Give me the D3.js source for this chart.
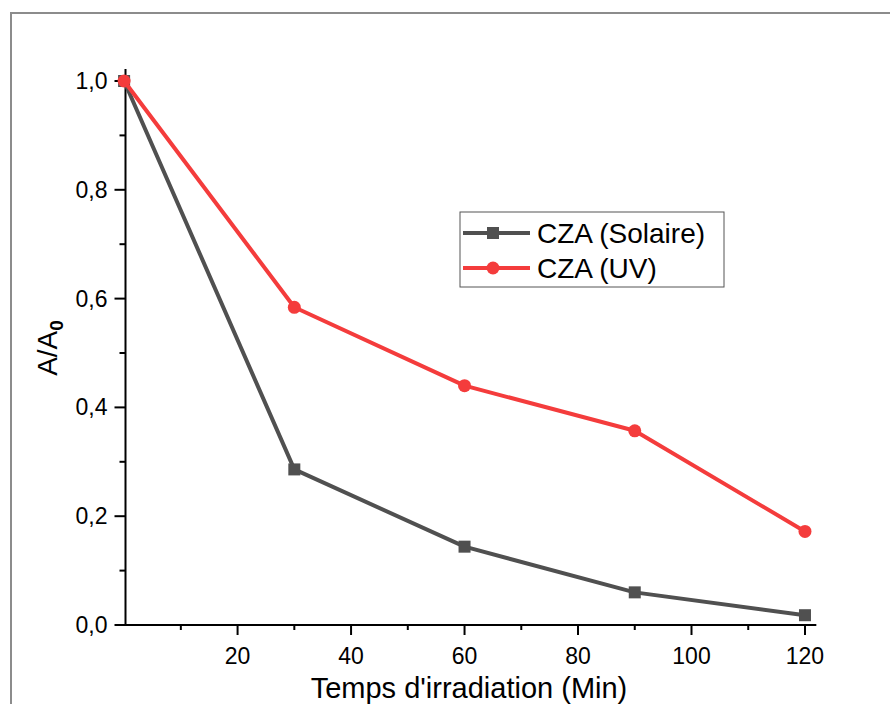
<!DOCTYPE html>
<html>
<head>
<meta charset="utf-8">
<script src="https://cdn.jsdelivr.net/npm/d3@7"></script>
<style>
  body { margin: 0; background: #fff; }
  svg { display: block; font-family: Arial, "Liberation Sans", sans-serif; }
</style>
</head>
<body>
<svg id="chart" width="890" height="704"></svg>
<script>
// data
var times = [0, 30, 60, 90, 120]
var solaire = [1.0, 0.286, 0.144, 0.060, 0.018]
var uv = [1.0, 0.584, 0.440, 0.357, 0.172]
var seriesNames = ['CZA (Solaire)', 'CZA (UV)']
var xTicks = [20, 40, 60, 80, 100, 120]
var yTicks = [0, 0.2, 0.4, 0.6, 0.8, 1.0]

var svg = d3.select('#chart')

// outer frame
svg.append('rect')
  .attr('x', 11).attr('y', 13)
  .attr('width', 900).attr('height', 720)
  .attr('fill', 'none')
  .attr('stroke', '#8c8c8c')
  .attr('stroke-width', 2)

var x = d3.scaleLinear().domain([0, 122]).range([124.1, 124.1 + 122 * 5.674])
var y = d3.scaleLinear().domain([0, 1.022]).range([625, 625 - 1.022 * 544])

var fmt = d => d3.format('.1f')(d).replace('.', ',')

// x axis
var gx = svg.append('g').attr('transform', 'translate(0,625)')
gx.append('line')
  .attr('x1', x.range()[0] + 1).attr('x2', x.range()[1])
  .attr('stroke', '#000').attr('stroke-width', 2)
var xMinor = d3.range(10, 121, 10).filter(v => xTicks.indexOf(v) < 0)
gx.selectAll('.minor').data(xMinor).enter().append('line')
  .attr('x1', d => x(d)).attr('x2', d => x(d))
  .attr('y1', 0).attr('y2', 5)
  .attr('stroke', '#000').attr('stroke-width', 2)
gx.selectAll('.major').data(xTicks).enter().append('line')
  .attr('x1', d => x(d)).attr('x2', d => x(d))
  .attr('y1', 0).attr('y2', 10)
  .attr('stroke', '#000').attr('stroke-width', 2)
gx.selectAll('text').data(xTicks).enter().append('text')
  .attr('x', d => x(d)).attr('y', 39)
  .attr('text-anchor', 'middle')
  .attr('font-size', 23)
  .text(d => d)
svg.append('text')
  .attr('x', 469).attr('y', 698)
  .attr('text-anchor', 'middle')
  .attr('font-size', 29)
  .text("Temps d'irradiation (Min)")

// y axis
var gy = svg.append('g').attr('transform', 'translate(125.5,0)')
gy.append('line')
  .attr('y1', y.range()[0] + 1).attr('y2', y.range()[1])
  .attr('stroke', '#000').attr('stroke-width', 2)
var yMinor = d3.range(0.1, 1.0, 0.2)
gy.selectAll('.minor').data(yMinor).enter().append('line')
  .attr('y1', d => y(d)).attr('y2', d => y(d))
  .attr('x1', 0).attr('x2', -6)
  .attr('stroke', '#000').attr('stroke-width', 2)
gy.selectAll('.major').data(yTicks).enter().append('line')
  .attr('y1', d => y(d)).attr('y2', d => y(d))
  .attr('x1', 0).attr('x2', -11)
  .attr('stroke', '#000').attr('stroke-width', 2)
gy.selectAll('text').data(yTicks).enter().append('text')
  .attr('x', -18).attr('y', d => y(d) + 8)
  .attr('text-anchor', 'end')
  .attr('font-size', 23)
  .text(fmt)

var yt = svg.append('text')
  .attr('transform', 'translate(57,348) rotate(-90)')
  .attr('text-anchor', 'middle')
  .attr('font-size', 28)
yt.append('tspan').text('A/A')
yt.append('tspan').attr('dy', 6).attr('font-size', 19).attr('font-weight', 'bold').text('0')

// series
var line = d3.line().x(d => x(d[0])).y(d => y(d[1]))
var grey = '#505050'
var red = '#f43c3c'

var sData = times.map((t, i) => [t, solaire[i]])
var uData = times.map((t, i) => [t, uv[i]])

svg.append('path').datum(sData)
  .attr('d', line).attr('fill', 'none')
  .attr('stroke', grey).attr('stroke-width', 4).attr('stroke-linejoin', 'round')
svg.selectAll('.sq').data(sData).enter().append('rect')
  .attr('x', d => x(d[0]) - 6).attr('y', d => y(d[1]) - 6)
  .attr('width', 12).attr('height', 12)
  .attr('fill', grey)

svg.append('path').datum(uData)
  .attr('d', line).attr('fill', 'none')
  .attr('stroke', red).attr('stroke-width', 4).attr('stroke-linejoin', 'round')
svg.selectAll('.dot').data(uData).enter().append('circle')
  .attr('cx', d => x(d[0])).attr('cy', d => y(d[1]))
  .attr('r', 6.5)
  .attr('fill', red)

// legend
var lg = svg.append('g')
lg.append('rect')
  .attr('x', 460).attr('y', 212)
  .attr('width', 264).attr('height', 75)
  .attr('fill', '#fff').attr('stroke', '#555').attr('stroke-width', 1)
var rows = [{ c: grey, m: 'sq' }, { c: red, m: 'dot' }]
rows.forEach(function (r, i) {
  var cy = 233 + i * 35
  lg.append('line')
    .attr('x1', 463).attr('x2', 530).attr('y1', cy).attr('y2', cy)
    .attr('stroke', r.c).attr('stroke-width', 4)
  if (r.m === 'sq') {
    lg.append('rect').attr('x', 493 - 6).attr('y', cy - 6)
      .attr('width', 12).attr('height', 12).attr('fill', r.c)
  } else {
    lg.append('circle').attr('cx', 493).attr('cy', cy).attr('r', 6.5).attr('fill', r.c)
  }
  lg.append('text')
    .attr('x', 537).attr('y', cy + 10)
    .attr('font-size', 28)
    .text(seriesNames[i])
})
</script>
</body>
</html>
